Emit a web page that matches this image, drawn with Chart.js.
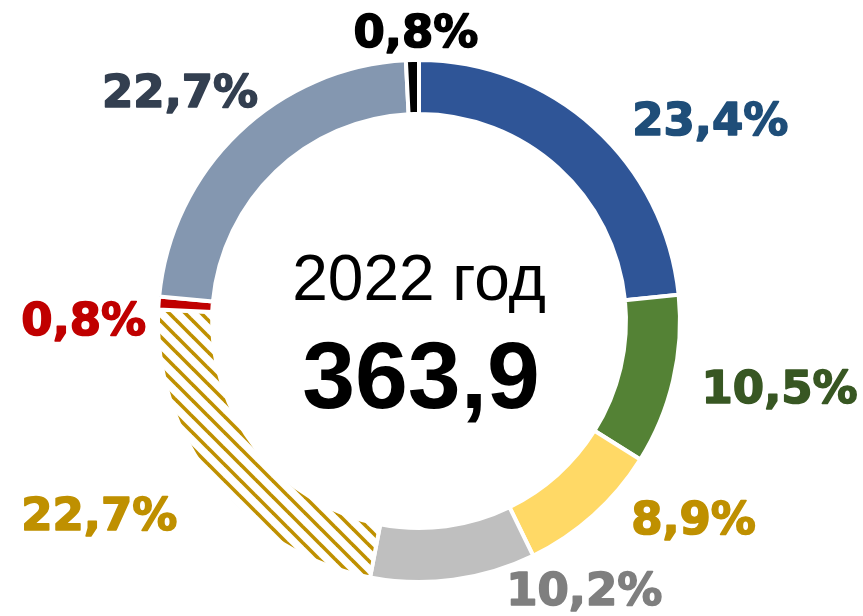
<!DOCTYPE html>
<html>
<head>
<meta charset="utf-8">
<script src="https://cdn.jsdelivr.net/npm/chart.js@4"></script>
<style>
  html, body { margin: 0; padding: 0; background: #fff; }
  #wrap { width: 863px; height: 616px; }
</style>
</head>
<body>
<div id="wrap"><canvas id="myChart"></canvas></div>
<script>
// data
const categories = ['A', 'B', 'C', 'D', 'E', 'F', 'G', 'H'];
const shares = [23.4, 10.5, 8.9, 10.2, 22.7, 0.8, 22.7, 0.8];
const shareLabels = ['23,4%', '10,5%', '8,9%', '10,2%', '22,7%', '0,8%', '22,7%', '0,8%'];
const yearLabel = '2022 год';
const totalLabel = '363,9';

// hatch pattern for the striped slice
function makeHatch() {
  const c = document.createElement('canvas');
  c.width = 16; c.height = 16;
  const g = c.getContext('2d');
  g.fillStyle = '#fff';
  g.fillRect(0, 0, 16, 16);
  g.strokeStyle = '#BF9000';
  g.lineWidth = 3.6;
  for (let k = -1; k <= 1; k++) {
    g.beginPath();
    g.moveTo(-2, -2 + k * 16);
    g.lineTo(18, 18 + k * 16);
    g.stroke();
  }
  return document.getElementById('myChart').getContext('2d').createPattern(c, 'repeat');
}

const sliceColors = ['#2F5597', '#548235', '#FFD966', '#BFBFBF', makeHatch(), '#C00000', '#8497B0', '#000000'];
const labelColors = ['#1F4E79', '#385723', '#BF9000', '#7F7F7F', '#BF9000', '#C00000', '#333F50', '#000000'];
// label nudges from a point 60px outside each slice's middle
const labelNudge = [[76, 52], [48, 9], [60, -26], [123, -34], [-68, 10], [-15, 36], [-17, 18], [5, 47]];

const labelPlugin = {
  id: 'labels',
  afterDraw(chart) {
    const ctx = chart.ctx;
    const arcs = chart.getDatasetMeta(0).data;
    ctx.save();
    ctx.textAlign = 'center';
    ctx.textBaseline = 'alphabetic';
    ctx.font = 'bold 45px "DejaVu Sans"';
    ctx.lineWidth = 1.6;
    ctx.lineJoin = 'round';
    arcs.forEach((arc, i) => {
      const p = arc.getProps(['x', 'y', 'startAngle', 'endAngle', 'outerRadius'], true);
      const mid = (p.startAngle + p.endAngle) / 2;
      const r = p.outerRadius + 60;
      const x = p.x + Math.cos(mid) * r + labelNudge[i][0];
      const y = p.y + Math.sin(mid) * r + labelNudge[i][1];
      ctx.fillStyle = labelColors[i];
      ctx.strokeStyle = labelColors[i];
      ctx.fillText(shareLabels[i], x, y);
      ctx.strokeText(shareLabels[i], x, y);
    });
    const cx = arcs[0].x, cy = arcs[0].y;
    ctx.fillStyle = '#000';
    ctx.font = '64px "Liberation Sans", Arial, sans-serif';
    ctx.fillText(yearLabel, cx, cy - 21);
    ctx.font = 'bold 95px "Liberation Sans", Arial, sans-serif';
    ctx.fillText(totalLabel, cx + 2, cy + 87);
    ctx.restore();
  }
};

new Chart(document.getElementById('myChart'), {
  type: 'doughnut',
  data: {
    labels: categories,
    datasets: [{
      data: shares,
      backgroundColor: sliceColors,
      borderColor: '#ffffff',
      borderWidth: 4
    }]
  },
  options: {
    responsive: true,
    maintainAspectRatio: false,
    animation: false,
    cutout: '79.3%',
    layout: { padding: { top: 58, bottom: 32, left: 156, right: 181 } },
    plugins: {
      legend: { display: false },
      tooltip: { enabled: false }
    }
  },
  plugins: [labelPlugin]
});
</script>
</body>
</html>
